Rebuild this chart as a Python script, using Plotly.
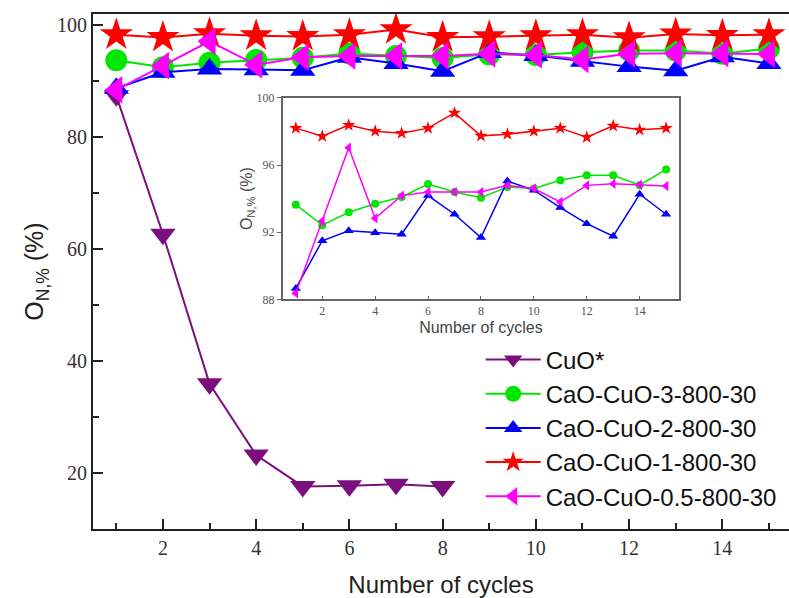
import plotly.graph_objects as go

cycles = list(range(1, 16))
cuo_cycles = list(range(1, 9))

cuo = [87.3, 62.6, 35.9, 23.2, 17.6, 17.7, 18.0, 17.6]
cao3 = [93.64, 92.42, 93.19, 93.70, 94.10, 94.87, 94.40, 94.06, 94.70, 94.60, 95.09, 95.39, 95.39, 94.80, 95.74]
cao2 = [88.65, 91.49, 92.08, 91.96, 91.88, 94.18, 93.07, 91.68, 95.05, 94.50, 93.47, 92.51, 91.76, 94.26, 93.07]
cao1 = [98.20, 97.72, 98.38, 98.02, 97.90, 98.20, 99.11, 97.74, 97.84, 98.02, 98.20, 97.66, 98.34, 98.10, 98.20]
cao05 = [88.36, 92.67, 97.03, 92.83, 94.18, 94.40, 94.40, 94.40, 94.79, 94.60, 93.80, 94.79, 94.89, 94.83, 94.75]

names = ["CuO*", "CaO-CuO-3-800-30", "CaO-CuO-2-800-30", "CaO-CuO-1-800-30", "CaO-CuO-0.5-800-30"]
colors = ["#7B0F7E", "#00E600", "#0000FF", "#FF0000", "#FF00FF"]
symbols = ["triangle-down", "circle", "triangle-up", "star", "triangle-left"]
main_sizes = [22, 22, 22, 25, 24]
inset_sizes = [8, 8, 9, 10, 9]

series = [(cuo_cycles, cuo), (cycles, cao3), (cycles, cao2), (cycles, cao1), (cycles, cao05)]

fig = go.Figure()
for i, (xs, ys) in enumerate(series):
    fig.add_trace(go.Scatter(
        x=xs, y=ys, name=names[i], mode="lines+markers",
        line=dict(color=colors[i], width=2),
        marker=dict(symbol=symbols[i], size=main_sizes[i], color=colors[i],
                    line=dict(width=0)),
        xaxis="x", yaxis="y"))

for i, (xs, ys) in enumerate(series):
    if i == 0:
        continue
    fig.add_trace(go.Scatter(
        x=xs, y=ys, name=names[i], mode="lines+markers", showlegend=False,
        line=dict(color=colors[i], width=1.5),
        marker=dict(symbol=symbols[i], size=inset_sizes[i], color=colors[i],
                    line=dict(width=0)),
        xaxis="x2", yaxis="y2"))

axis_col = "#222222"
tickfont = dict(family="Liberation Serif", size=20, color="#333333")

fig.update_layout(
    width=789, height=598,
    margin=dict(l=93, r=0, t=14, b=69),
    paper_bgcolor="white", plot_bgcolor="white",
    showlegend=True,
    legend=dict(x=0.557, y=0.372, xanchor="left", yanchor="top",
                font=dict(family="Liberation Sans", size=24, color="#111111"),
                bgcolor="rgba(0,0,0,0)", itemsizing="trace", tracegroupgap=0,
                itemwidth=55),
    xaxis=dict(domain=[0, 1], range=[0.5, 15.43], tick0=0, dtick=2,
               showgrid=False, zeroline=False, automargin=False,
               showline=True, linecolor=axis_col, linewidth=2, mirror=True,
               ticks="inside", ticklen=10, tickwidth=1.5, tickcolor=axis_col,
               minor=dict(ticks="inside", ticklen=6, dtick=1, tick0=0, tickcolor=axis_col, tickwidth=1.5),
               tickfont=tickfont,
               title=dict(text="Number of cycles", standoff=18,
                          font=dict(family="Liberation Sans", size=24, color="#222222"))),
    yaxis=dict(domain=[0, 1], range=[10, 101.9], tick0=0, dtick=20,
               showgrid=False, zeroline=False, automargin=False,
               showline=True, linecolor=axis_col, linewidth=2, mirror=False,
               ticks="inside", ticklen=10, tickwidth=1.5, tickcolor=axis_col,
               minor=dict(ticks="inside", ticklen=6, dtick=10, tick0=0, tickcolor=axis_col, tickwidth=1.5),
               tickfont=tickfont,
               title=dict(text="O<sub>N,%</sub> (%)", standoff=6,
                          font=dict(family="Liberation Sans", size=25, color="#222222"))),
    xaxis2=dict(domain=[0.2724, 0.8424], anchor="y2", range=[0.5, 15.5], tick0=0, dtick=2,
                showgrid=False, zeroline=False, automargin=False,
                showline=True, linecolor="#666666", linewidth=1.5, mirror=True,
                ticks="inside", ticklen=4, tickcolor="#666666",
                tickfont=dict(family="Liberation Serif", size=12, color="#555555"),
                title=dict(text="Number of cycles", standoff=4,
                           font=dict(family="Liberation Sans", size=16, color="#444444"))),
    yaxis2=dict(domain=[0.446, 0.837], anchor="x2", range=[88, 100], tick0=88, dtick=4,
                showgrid=False, zeroline=False, automargin=False,
                showline=True, linecolor="#666666", linewidth=1.5, mirror=True,
                ticks="outside", ticklen=4, tickcolor="#666666",
                tickfont=dict(family="Liberation Serif", size=12, color="#555555"),
                title=dict(text="O<sub>N,%</sub> (%)", standoff=0,
                           font=dict(family="Liberation Sans", size=16, color="#444444"))),
)

fig.write_html("out.html", config={"displayModeBar": False},
               post_script="document.body.style.margin='0';document.body.style.overflow='hidden';")
